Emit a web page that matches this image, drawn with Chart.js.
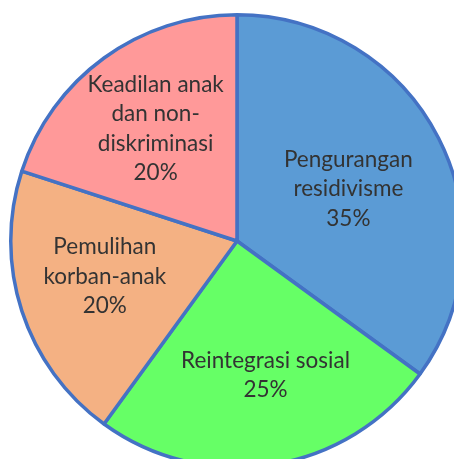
<!DOCTYPE html>
<html>
<head>
<meta charset="utf-8">
<script src="https://cdn.jsdelivr.net/npm/chart.js@4/dist/chart.umd.min.js"></script>
<style>
  html, body { margin: 0; padding: 0; background: #fff; overflow: hidden; width: 454px; height: 459px; }
  #wrap { position: absolute; left: 9px; top: 13px; width: 456px; height: 456px; }
</style>
</head>
<body>
<div id="wrap"><canvas id="pieChart"></canvas></div>
<script>
// data
const categories = [
  ['Pengurangan', 'residivisme'],
  ['Reintegrasi sosial'],
  ['Pemulihan', 'korban-anak'],
  ['Keadilan anak', 'dan non-', 'diskriminasi']
];
const shares = [35, 25, 20, 20];
const sliceColors = ['#5B9BD5', '#66FF66', '#F4B183', '#FF9999'];

// label placement: fraction of radius, and small angle tweak (degrees)
const labelRadius = [0.543, 0.606, 0.605, 0.612];
const labelTurn = [2, -3, 3, 0];

const sliceLabels = {
  id: 'sliceLabels',
  afterDatasetsDraw(chart) {
    const ctx = chart.ctx;
    const meta = chart.getDatasetMeta(0);
    ctx.save();
    ctx.font = '22.5px Lato, "Open Sans", sans-serif';
    ctx.fillStyle = '#333333';
    ctx.textAlign = 'center';
    ctx.textBaseline = 'middle';
    meta.data.forEach((arc, i) => {
      const mid = (arc.startAngle + arc.endAngle) / 2 + labelTurn[i] * Math.PI / 180;
      const r = arc.outerRadius * labelRadius[i];
      const x = arc.x + Math.cos(mid) * r;
      const y = arc.y + Math.sin(mid) * r;
      const lines = categories[i].concat([shares[i] + '%']);
      const lh = 29.5;
      lines.forEach((txt, k) => {
        ctx.fillText(txt, x, y + (k - (lines.length - 1) / 2) * lh);
      });
    });
    ctx.restore();
  }
};

new Chart(document.getElementById('pieChart'), {
  type: 'pie',
  data: {
    labels: categories.map(c => c.join(' ')),
    datasets: [{
      data: shares,
      backgroundColor: sliceColors,
      borderColor: '#4472C4',
      borderWidth: 3.5
    }]
  },
  options: {
    responsive: true,
    maintainAspectRatio: false,
    animation: false,
    layout: { padding: 0 },
    plugins: {
      legend: { display: false },
      tooltip: { enabled: false }
    }
  },
  plugins: [sliceLabels]
});
</script>
</body>
</html>
